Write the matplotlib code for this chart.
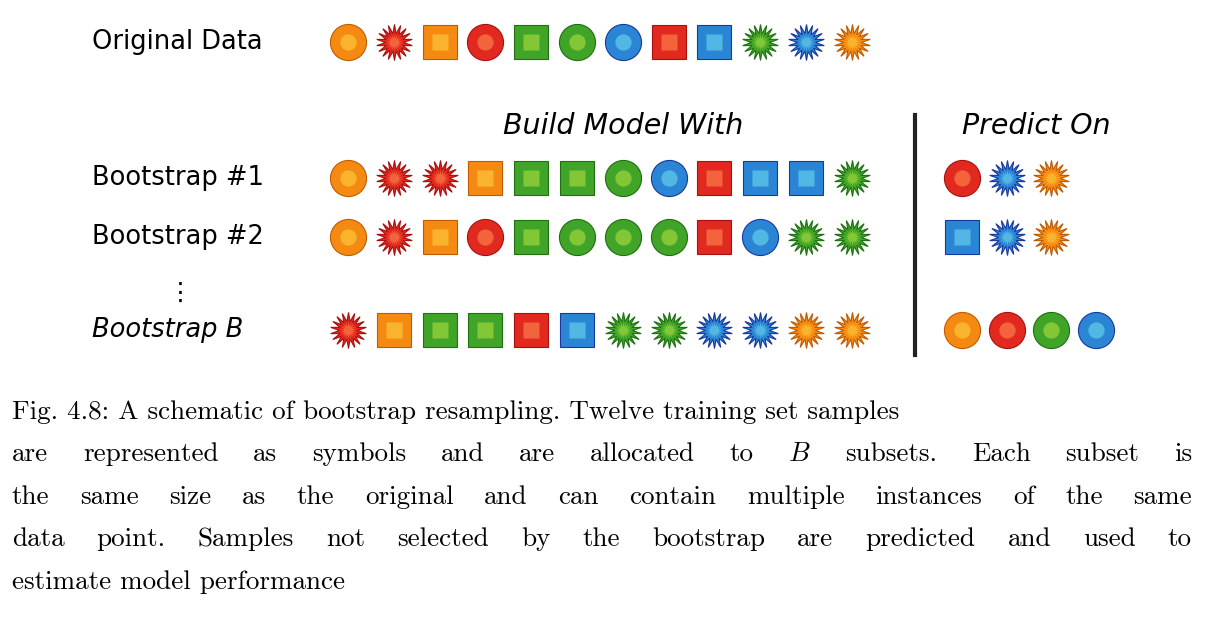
import matplotlib
matplotlib.use("Agg")
from matplotlib import pyplot as plt

plt.rcParams["mathtext.fontset"] = "cm"

# symbol codes: shape + colour
original = ["o-orange", "*-red", "s-orange", "o-red", "s-green", "o-green",
            "o-blue", "s-red", "s-blue", "*-green", "*-blue", "*-orange"]

row_labels = ["Bootstrap #1", "Bootstrap #2", "Bootstrap B"]
build_sets = [
    ["o-orange", "*-red", "*-red", "s-orange", "s-green", "s-green",
     "o-green", "o-blue", "s-red", "s-blue", "s-blue", "*-green"],
    ["o-orange", "*-red", "s-orange", "o-red", "s-green", "o-green",
     "o-green", "o-green", "s-red", "o-blue", "*-green", "*-green"],
    ["*-red", "s-orange", "s-green", "s-green", "s-red", "s-blue",
     "*-green", "*-green", "*-blue", "*-blue", "*-orange", "*-orange"],
]
predict_sets = [
    ["o-red", "*-blue", "*-orange"],
    ["s-blue", "*-blue", "*-orange"],
    ["o-orange", "o-red", "o-green", "o-blue"],
]

caption = [
    "Fig. 4.8: A schematic of bootstrap resampling. Twelve training set samples",
    "are represented as symbols and are allocated to $B$ subsets. Each subset is",
    "the same size as the original and can contain multiple instances of the same",
    "data point. Samples not selected by the bootstrap are predicted and used to",
    "estimate model performance",
]

colours = {
    "orange": ("#f58a12", "#c05a00", "#ffd040"),
    "red": ("#e2291f", "#a81010", "#ff8a50"),
    "green": ("#40a428", "#1e7010", "#b0e040"),
    "blue": ("#2a86d4", "#1838a0", "#70d8f0"),
}
markers = {"o": "o", "s": "s", "*": (18, 1, 0)}
sizes = {"o": 26, "s": 25, "*": 26}

fig = plt.figure(figsize=(12.16, 6.22), dpi=100)
ax = fig.add_axes([0, 0, 1, 1])
ax.set_xlim(0, 1216)
ax.set_ylim(622, 0)
ax.axis("off")

x0, dx = 348, 45.8
px0, pdx = 962, 44.5


def draw(code, x, y):
    shape, col = code.split("-")
    face, edge, light = colours[col]
    ax.plot(x, y, marker=markers[shape], ms=sizes[shape], mfc=face, mec=edge, mew=0.8, ls="none")
    ax.plot(x, y, marker=markers[shape], ms=sizes[shape] * 0.45, mfc=light, mec="none", alpha=0.6, ls="none")


sans = "DejaVu Sans"
ax.text(92, 42, "Original Data", fontsize=18.5, family=sans, va="center")
for i, c in enumerate(original):
    draw(c, x0 + i * dx, 42)

ax.text(623, 126, "Build Model With", fontsize=20.5, family=sans, style="italic", ha="center", va="center")
ax.text(1036, 126, "Predict On", fontsize=20.5, family=sans, style="italic", ha="center", va="center")
ax.plot([915, 915], [115, 355], color="#222222", lw=3)

row_y = [178, 237, 330]
for lab, bset, pset, y in zip(row_labels, build_sets, predict_sets, row_y):
    ax.text(92, y, lab, fontsize=18.5, family=sans, va="center",
            style="italic" if lab.endswith("B") else "normal")
    for i, c in enumerate(bset):
        draw(c, x0 + i * dx, y)
    for i, c in enumerate(pset):
        draw(c, px0 + i * pdx, y)
ax.text(180, 293, "\u22ee", fontsize=18, family=sans, ha="center", va="center")

# caption, justified except the last line
fig.canvas.draw()
r = fig.canvas.get_renderer()
inv = ax.transData.inverted()
left, right = 12, 1192


def data_width(a):
    bb = a.get_window_extent(r)
    (xa, _), (xb, _) = inv.transform([(bb.x0, bb.y0), (bb.x1, bb.y1)])
    return abs(xb - xa)


for k, line in enumerate(caption):
    y = 412 + k * 42.5
    if k == len(caption) - 1:
        ax.text(left, y, line, fontsize=19.5, family="cmr10", va="center")
        continue
    full = ax.text(left, y, line, fontsize=19.5, family="cmr10", va="center")
    words = line.split(" ")
    arts = [ax.text(0, y, w, fontsize=19.5, family="cmr10", va="center") for w in words]
    widths = [data_width(a) for a in arts]
    natural_gap = (data_width(full) - sum(widths)) / (len(words) - 1)
    gap = (right - left - sum(widths)) / (len(words) - 1)
    if gap > 3 * natural_gap + 10:
        # measurement looks off: keep the line as one piece
        for a in arts:
            a.remove()
        continue
    full.remove()
    x = left
    for a, w in zip(arts, widths):
        a.set_x(x)
        x += w + gap

fig.savefig("out.png", dpi=100)
